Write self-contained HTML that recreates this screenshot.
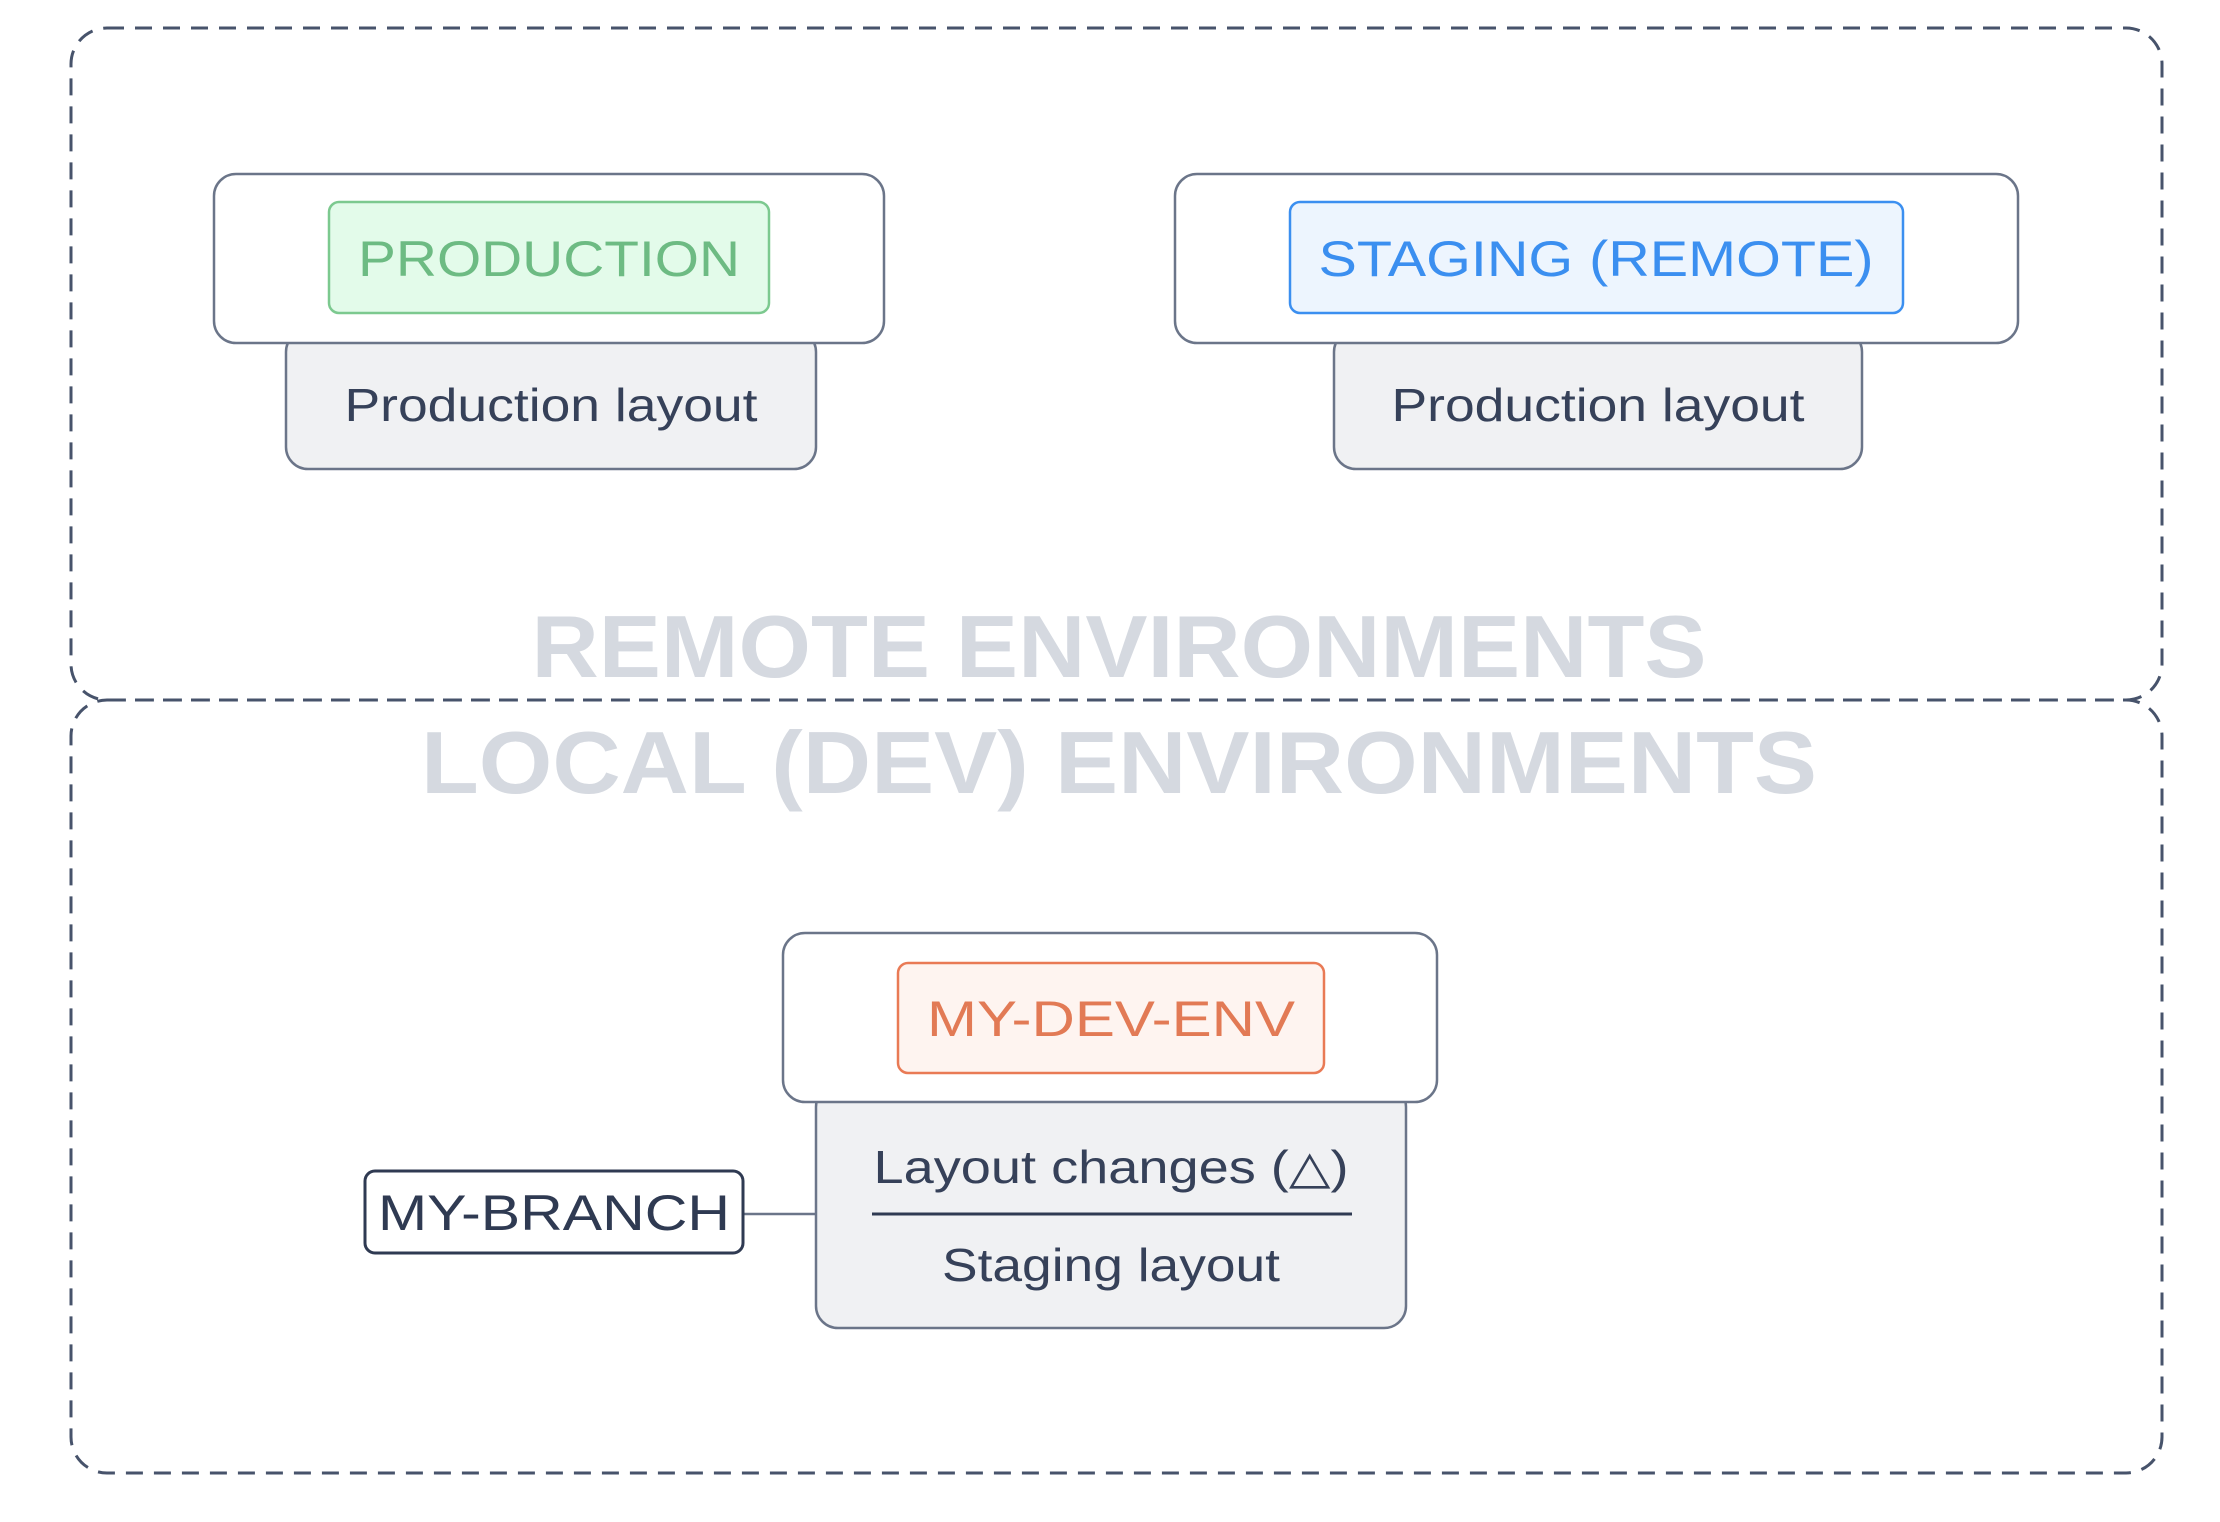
<!DOCTYPE html>
<html><head><meta charset="utf-8"><style>
html,body{margin:0;padding:0;background:#fff;width:2220px;height:1522px;overflow:hidden}
svg{display:block}
text{font-family:"Liberation Sans","DejaVu Sans",sans-serif}
</style></head><body>
<svg width="2220" height="1522" viewBox="0 0 2220 1522" xmlns="http://www.w3.org/2000/svg">
<rect width="2220" height="1522" fill="#fff"/>
<g fill="none" stroke="#47536b" stroke-width="3" stroke-dasharray="17 11">
<rect x="71" y="28" width="2091" height="672" rx="36"/>
<rect x="71" y="700" width="2091" height="773" rx="36"/>
</g>
<text x="1119" y="677" text-anchor="middle" font-size="88" font-weight="bold" fill="#d5d9e0" textLength="1175" lengthAdjust="spacingAndGlyphs">REMOTE ENVIRONMENTS</text>
<text x="1119" y="793" text-anchor="middle" font-size="88" font-weight="bold" fill="#d5d9e0" textLength="1396" lengthAdjust="spacingAndGlyphs">LOCAL (DEV) ENVIRONMENTS</text>

<!-- Production -->
<rect x="286" y="330" width="530" height="139" rx="22" fill="#f0f1f3" stroke="#6b7589" stroke-width="2.5"/>
<rect x="214" y="174" width="670" height="169" rx="22" fill="#fff" stroke="#6b7589" stroke-width="2.5"/>
<rect x="329" y="202" width="440" height="111" rx="10" fill="#e3fbea" stroke="#7cc98f" stroke-width="2.5"/>
<text x="549" y="276" text-anchor="middle" font-size="50" fill="#6dbb83" textLength="382" lengthAdjust="spacingAndGlyphs">PRODUCTION</text>
<text x="551" y="421" text-anchor="middle" font-size="46" fill="#364159" textLength="413" lengthAdjust="spacingAndGlyphs">Production layout</text>

<!-- Staging -->
<rect x="1334" y="330" width="528" height="139" rx="22" fill="#f0f1f3" stroke="#6b7589" stroke-width="2.5"/>
<rect x="1175" y="174" width="843" height="169" rx="22" fill="#fff" stroke="#6b7589" stroke-width="2.5"/>
<rect x="1290" y="202" width="613" height="111" rx="10" fill="#edf5fe" stroke="#3b8ff0" stroke-width="2.5"/>
<text x="1596" y="276" text-anchor="middle" font-size="50" fill="#3b8ff0" textLength="555" lengthAdjust="spacingAndGlyphs">STAGING (REMOTE)</text>
<text x="1598" y="421" text-anchor="middle" font-size="46" fill="#364159" textLength="413" lengthAdjust="spacingAndGlyphs">Production layout</text>

<!-- Dev -->
<line x1="743" y1="1214" x2="816" y2="1214" stroke="#6b7589" stroke-width="2.5"/>
<rect x="816" y="1085" width="590" height="243" rx="22" fill="#f0f1f3" stroke="#6b7589" stroke-width="2.5"/>
<rect x="783" y="933" width="654" height="169" rx="22" fill="#fff" stroke="#6b7589" stroke-width="2.5"/>
<rect x="898" y="963" width="426" height="110" rx="10" fill="#fef4f0" stroke="#e97a55" stroke-width="2.5"/>
<text x="1111" y="1036" text-anchor="middle" font-size="50" fill="#e27a55" textLength="368" lengthAdjust="spacingAndGlyphs">MY-DEV-ENV</text>
<text x="1111" y="1183" text-anchor="middle" font-size="46" fill="#364159" textLength="475" lengthAdjust="spacingAndGlyphs">Layout changes (△)</text>
<line x1="872" y1="1214" x2="1352" y2="1214" stroke="#2f3a52" stroke-width="3"/>
<text x="1111" y="1281" text-anchor="middle" font-size="46" fill="#364159" textLength="338" lengthAdjust="spacingAndGlyphs">Staging layout</text>

<rect x="365" y="1171" width="378" height="82" rx="10" fill="#fff" stroke="#2f3a52" stroke-width="3"/>
<text x="554" y="1230" text-anchor="middle" font-size="50" fill="#2f3a52" textLength="352" lengthAdjust="spacingAndGlyphs">MY-BRANCH</text>
</svg>
</body></html>
